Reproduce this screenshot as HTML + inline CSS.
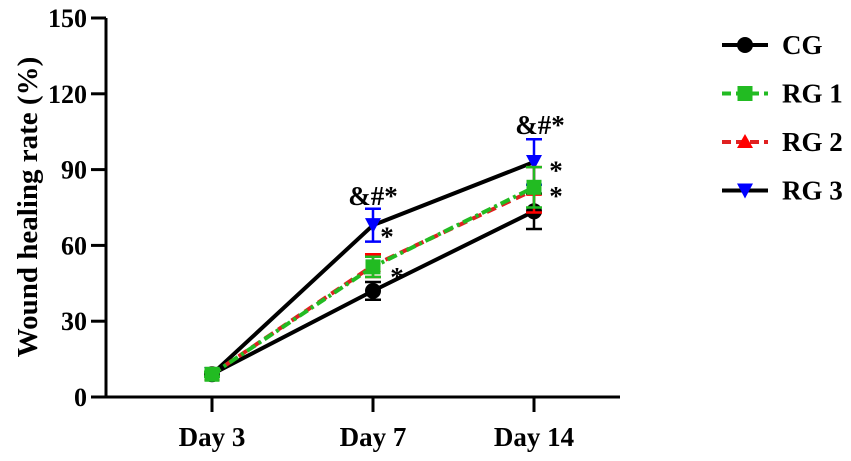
<!DOCTYPE html>
<html><head><meta charset="utf-8"><style>
html,body{margin:0;padding:0;background:#fff}
svg text{font-family:"Liberation Serif",serif;font-weight:bold}
</style></head><body>
<svg id="c" width="851" height="456" viewBox="0 0 851 456"></svg>
<script>
const categories=["Day 3","Day 7","Day 14"];
const yTicks=[0,30,60,90,120,150];
const cgVals=[9,42,73.5], cgErr=[1,3.5,7];
const rg1Vals=[9,51.5,83], rg1Err=[1,4,8];
const rg2Vals=[9,52,82], rg2Err=[1,4.5,9];
const rg3Vals=[9,68,93], rg3Err=[1,6.5,9];
const annots=[{s:"&#*",cat:1,v:76,dx:0},{s:"*",cat:1,v:60,dx:14},{s:"*",cat:1,v:44,dx:24},{s:"&#*",cat:2,v:104,dx:6},{s:"*",cat:2,v:86,dx:22},{s:"*",cat:2,v:76,dx:22}];
const NS="http://www.w3.org/2000/svg";
const svg=document.getElementById('c');
const xs=[212,373,534];
function X(i){return xs[0]+i*((xs[2]-xs[0])/(categories.length-1));}
function Y(v){return 397-(v/150)*(397-18);}
function el(t,a,p){const e=document.createElementNS(NS,t);for(const k in a)e.setAttribute(k,a[k]);(p||svg).appendChild(e);return e;}
let ax=el('line',{x1:106,y1:18,x2:106,y2:398,stroke:'#000','stroke-width':3});


let bx=el('line',{x1:104.5,y1:397,x2:620,y2:397,stroke:'#000','stroke-width':3});


yTicks.forEach(v=>{
 const t=el('line',{x1:91,y1:Y(v),x2:106,y2:Y(v),stroke:'#000','stroke-width':3});
 
 
 const l=el('text',{x:87,y:Y(v)+9,'text-anchor':'end','font-size':26});
 l.textContent=v;
 
 
});
categories.forEach((c,i)=>{
 const t=el('line',{x1:X(i),y1:397,x2:X(i),y2:412,stroke:'#000','stroke-width':3});
 
 
 const l=el('text',{x:X(i),y:446,'text-anchor':'middle','font-size':27});
 l.textContent=c;
 
 
});
const yt=el('text',{transform:'translate(37,207) rotate(-90)','text-anchor':'middle','font-size':29});
yt.textContent='Wound healing rate (%)';


const series=[
 {name:'CG',vals:cgVals,err:cgErr,color:'#000',dash:null,mk:'circle',lc:'#000'},
 {name:'RG 3',vals:rg3Vals,err:rg3Err,color:'#0000ff',dash:null,mk:'down',lc:'#000'},
 {name:'RG 2',vals:rg2Vals,err:rg2Err,color:'#ff0000',dash:'10,6',mk:'up',lc:'#e02020'},
 {name:'RG 1',vals:rg1Vals,err:rg1Err,color:'#22bb22',dash:'10,4,3,4',mk:'square',lc:'#22bb22'}
];
function marker(s,x,y,g){
 let m;
 if(s.mk==='circle')m=el('circle',{cx:x,cy:y,r:8,fill:s.color},g);
 else if(s.mk==='square')m=el('rect',{x:x-7.5,y:y-7.5,width:15,height:15,fill:s.color},g);
 else if(s.mk==='up')m=el('polygon',{points:`${x},${y-8} ${x-8},${y+6} ${x+8},${y+6}`,fill:s.color},g);
 else m=el('polygon',{points:`${x-8},${y-7} ${x+8},${y-7} ${x},${y+8}`,fill:s.color},g);
 return m;
}
series.forEach(s=>{
 const g=el('g',{});
 
 
 const pts=s.vals.map((v,i)=>X(i)+','+Y(v)).join(' ');
 const pl=el('polyline',{points:pts,fill:'none',stroke:s.lc,'stroke-width':4,'stroke-dasharray':s.dash||'none'},g);
 
 
 s.vals.forEach((v,i)=>{
  const x=X(i),y1=Y(v+s.err[i]),y2=Y(v-s.err[i]);
  const e=el('path',{d:`M${x},${y1}V${y2}M${x-8},${y1}H${x+8}M${x-8},${y2}H${x+8}`,stroke:s.color,'stroke-width':2.5,fill:'none'},g);
  
  
  const m=marker(s,x,Y(v),g);
  
  
 });
});
annots.forEach(a=>{
 const t=el('text',{x:X(a.cat)+a.dx,y:Y(a.v),'text-anchor':'middle','font-size':27,'font-weight':'normal'});
 t.textContent=a.s;
 
 
});
const leg=[{name:'CG',color:'#000',dash:null,mk:'circle',lc:'#000'},{name:'RG 1',color:'#22bb22',dash:'9,5',mk:'square',lc:'#22bb22'},{name:'RG 2',color:'#ff0000',dash:'9,5',mk:'up',lc:'#e02020'},{name:'RG 3',color:'#0000ff',dash:null,mk:'down',lc:'#000'}];
leg.forEach((s,i)=>{
 const y=45+i*48.5;
 const g=el('g',{});
 
 
 el('line',{x1:722,y1:y,x2:768,y2:y,stroke:s.lc,'stroke-width':4,'stroke-dasharray':s.dash||'none'},g);
 marker(s,745,y,g);
 const t=el('text',{x:782,y:y+9,'font-size':27},g);
 t.textContent=s.name;
});
</script>
</body></html>
